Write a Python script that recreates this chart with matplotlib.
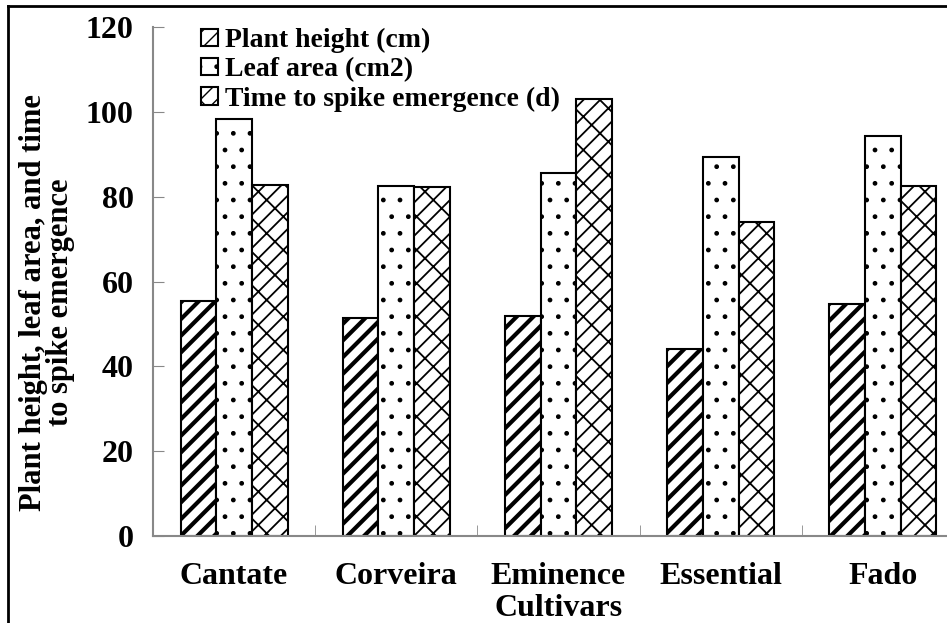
import numpy as np
import matplotlib
matplotlib.use('Agg')
from matplotlib import pyplot as plt
from matplotlib.lines import Line2D

# values
cultivars = ['Cantate', 'Corveira', 'Eminence', 'Essential', 'Fado']
plant_height = [55.4, 51.4, 51.9, 44.2, 54.6]
leaf_area = [98.3, 82.6, 85.6, 89.4, 94.3]
spike_time = [82.8, 82.3, 103.1, 74.0, 82.5]
series_names = ['Plant height (cm)', 'Leaf area (cm2)', 'Time to spike emergence (d)']

plt.rcParams['font.family'] = ['Liberation Serif', 'DejaVu Serif']
plt.rcParams['font.weight'] = 'bold'
plt.rcParams['axes.labelweight'] = 'bold'

fig = plt.figure(figsize=(9.47, 6.23), dpi=100)
ax = fig.add_axes([153/947, 87/623, (964-153)/947, (536-27)/623])

x = np.arange(len(cultivars))
w = 0.22
with plt.rc_context({'hatch.linewidth': 3.0}):
    b1 = ax.bar(x - w, plant_height, w, color='white', edgecolor='black', hatch='//',
                linewidth=1.5, label=series_names[0])
with plt.rc_context({'hatch.linewidth': 1.0}):
    b2 = ax.bar(x, leaf_area, w, color='white', edgecolor='black', hatch='.',
                linewidth=1.5, label=series_names[1])
with plt.rc_context({'hatch.linewidth': 1.3}):
    b3 = ax.bar(x + w, spike_time, w, color='white', edgecolor='black', hatch='//\\',
                linewidth=1.5, label=series_names[2])

ax.set_xlim(-0.5, 4.5)
ax.set_ylim(0, 120)
ax.set_yticks(np.arange(0, 121, 20))
ax.set_xticks(x)
ax.set_xticklabels(cultivars, fontsize=23)
ax.set_xticks(np.arange(0.5, 4.5, 1), minor=True)
ax.tick_params(axis='x', which='major', length=0, pad=19)
ax.tick_params(axis='x', which='minor', direction='in', length=8, color='#888888')
ax.tick_params(axis='y', direction='in', length=8, color='#888888', labelsize=23, pad=14)
for s in ['top', 'right']:
    ax.spines[s].set_visible(False)
for s in ['left', 'bottom']:
    ax.spines[s].set_color('#888888')
    ax.spines[s].set_linewidth(1.5)

ax.set_xlabel('Cultivars', fontsize=23)
ax.xaxis.set_label_coords(0.5, (536 - 594) / 509)
fig.text(47/947, 0.515, 'Plant height, leaf area, and time\nto spike emergence',
         rotation=90, ha='center', va='center', ma='center', fontsize=22,
         linespacing=0.9)

ax.legend(loc='upper left', bbox_to_anchor=(190/947, 1 - 17/623),
          bbox_transform=fig.transFigure, frameon=False, fontsize=20,
          handlelength=0.6, handleheight=0.6, handletextpad=0.25,
          labelspacing=0.15, borderaxespad=0)

# border of the original figure
fig.add_artist(Line2D([8/947, 8/947], [0, 1 - 6/623], color='black', lw=2))
fig.add_artist(Line2D([8/947, 1], [1 - 6/623, 1 - 6/623], color='black', lw=2))

fig.savefig('out.png', dpi=100)
